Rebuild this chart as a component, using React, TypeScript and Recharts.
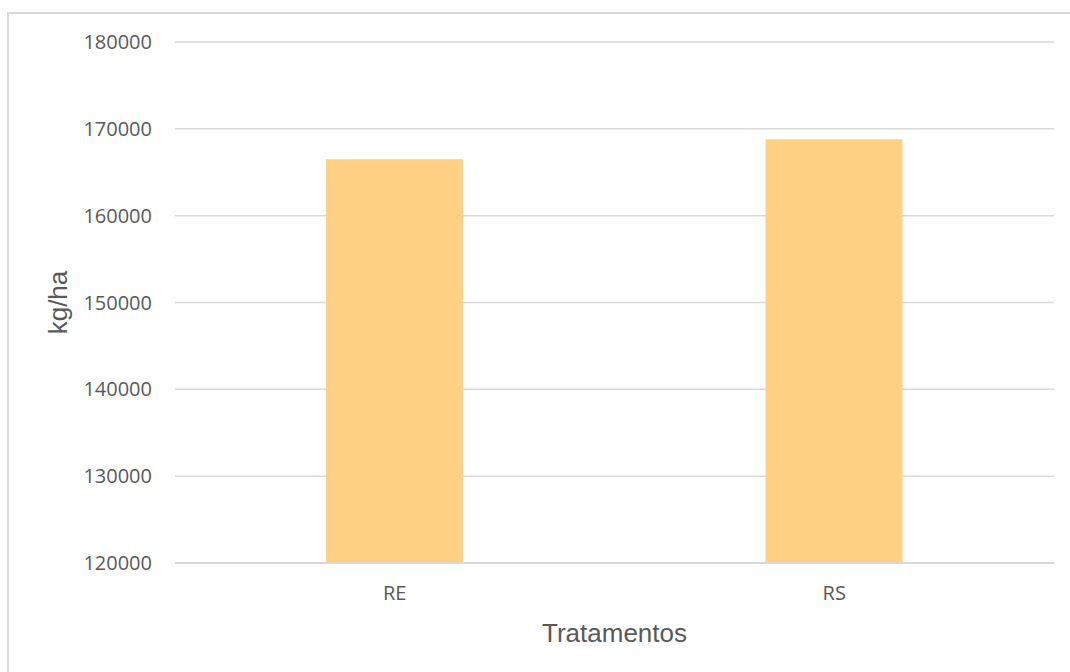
import { BarChart, Bar, XAxis, YAxis, CartesianGrid, Label } from 'recharts';

const categories = ['RE', 'RS'];
const yieldKgHa = [166500, 168800];
const yTicks = [120000, 130000, 140000, 150000, 160000, 170000, 180000];

const data = categories.map((name, i) => ({ name, value: yieldKgHa[i] }));

const GRID = '#d9d9d9';
const TEXT = '#595959';
const BAR = '#ffd185';

export default function App() {
  return (
    <div style={{ position: 'absolute', left: 0, top: 0, width: 1070, height: 672, background: '#fff', overflow: 'hidden' }}>
      <div
        style={{
          position: 'absolute',
          left: 7,
          top: 12,
          width: 1100,
          height: 700,
          borderTop: `2px solid ${GRID}`,
          borderLeft: `2px solid ${GRID}`,
        }}
      />
      <div style={{ position: 'absolute', left: 0, top: 0 }}>
        <BarChart width={1070} height={672} data={data} margin={{ top: 42, right: 16, left: 0, bottom: 0 }}>
          <CartesianGrid stroke={GRID} strokeWidth={1.5} vertical={false} />
          <XAxis
            dataKey="name"
            height={109}
            axisLine={{ stroke: GRID, strokeWidth: 2 }}
            tickLine={false}
            tickSize={6}
            tickMargin={17}
            tick={{ fill: TEXT, fontSize: 20, fontFamily: 'Open Sans' }}
          >
            <Label
              content={({ viewBox }: any) => (
                <text
                  x={viewBox.x + viewBox.width / 2}
                  y={642}
                  textAnchor="middle"
                  fill={TEXT}
                  fontSize={26}
                  fontFamily="Liberation Sans"
                >
                  Tratamentos
                </text>
              )}
            />
          </XAxis>
          <YAxis
            width={175}
            domain={[120000, 180000]}
            ticks={yTicks}
            allowDataOverflow
            axisLine={false}
            tickLine={false}
            tickSize={6}
            tickMargin={17}
            tick={{ fill: TEXT, fontSize: 20, fontFamily: 'Open Sans' }}
          >
            <Label
              content={({ viewBox }: any) => {
                const cy = viewBox.y + viewBox.height / 2;
                return (
                  <text
                    x={67}
                    y={cy}
                    transform={`rotate(-90, 67, ${cy})`}
                    textAnchor="middle"
                    fill={TEXT}
                    fontSize={26}
                    fontFamily="Liberation Sans"
                  >
                    kg/ha
                  </text>
                );
              }}
            />
          </YAxis>
          <Bar dataKey="value" fill={BAR} barSize={137} isAnimationActive={false} />
        </BarChart>
      </div>
    </div>
  );
}
